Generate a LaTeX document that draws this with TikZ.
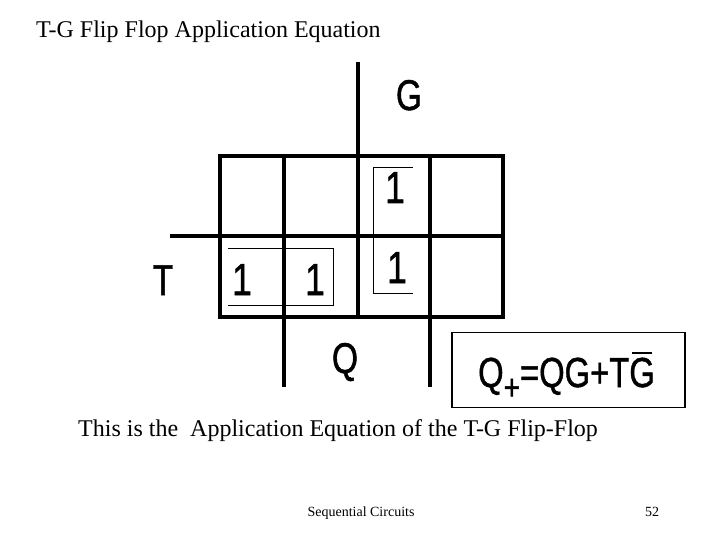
\documentclass[tikz,border=0pt]{standalone}
\usepackage{fontspec}
\setmainfont{Liberation Serif}
\setsansfont{Liberation Sans}
\newfontfamily\kfont[FakeBold=1.2]{Liberation Sans}
\usetikzlibrary{positioning}
\newcommand\barred[1]{\ooalign{#1\cr\hidewidth\rule[0.78em]{0.6em}{0.05em}\hidewidth\cr}}
\tikzset{
  kgrid/.style={line width=3.6pt,black},
  kloop/.style={line width=0.9pt,black},
  kvar/.style={font=\kfont\fontsize{43}{43}\selectfont,inner sep=0pt,anchor=base,xscale=0.78},
  kone/.style={font=\kfont\fontsize{45}{45}\selectfont,inner sep=0pt,anchor=base,xscale=0.78},
  eqbox/.style={draw,line width=1.8pt,minimum width=233pt,minimum height=75pt,inner sep=0pt},
  slidetext/.style={font=\fontsize{24}{28}\selectfont,inner sep=0pt,anchor=base west},
  foottext/.style={font=\fontsize{14}{16}\selectfont,inner sep=0pt,anchor=base},
}
\begin{document}
\begin{tikzpicture}[x=1pt,y=-1pt]
  \useasboundingbox (0,0) rectangle (720,540);
  \node[slidetext] (title) at (36,38) {T-G Flip Flop Application Equation};

  % map
  \draw[kgrid] (220,156) rectangle (503,317);
  \draw[kgrid] (170,236) -- (503,236);
  \draw[kgrid] (284,156) -- (284,387);
  \draw[kgrid] (358,62) -- (358,317);
  \draw[kgrid] (430,156) -- (430,387);

  \node[kvar] (G) at (409,110) {G};
  \node[kvar] (T) at (163,295) {T};
  \node[kvar] (Q) at (345,373) {Q};

  \node[kone] (m2) at (395,203) {1};
  \node[kone] (m4) at (242,295) {1};
  \node[kone] (m5) at (315,295) {1};
  \node[kone] (m7) at (397,283) {1};

  % loops
  \draw[kloop] (413,167) -- (373,167) -- (373,293) -- (413,293);
  \draw[kloop] (228,248) -- (333,248) -- (333,305) -- (228,305);

  \node[eqbox] (eq) at (568.5,370) {};
  \node[kvar,font=\kfont\fontsize{42}{42}\selectfont,anchor=base west] (eqtext) at (478,387)
    {Q\raisebox{-0.3em}{\fontsize{36}{36}\selectfont+}=QG+T\barred{G}};

  \node[slidetext] (caption) at (78,436) {This is the\ \ Application Equation of the T-G Flip-Flop};
  \node[foottext] (foot) at (361,516) {Sequential Circuits};
  \node[foottext] (page) at (652,516) {52};
\end{tikzpicture}
\end{document}
